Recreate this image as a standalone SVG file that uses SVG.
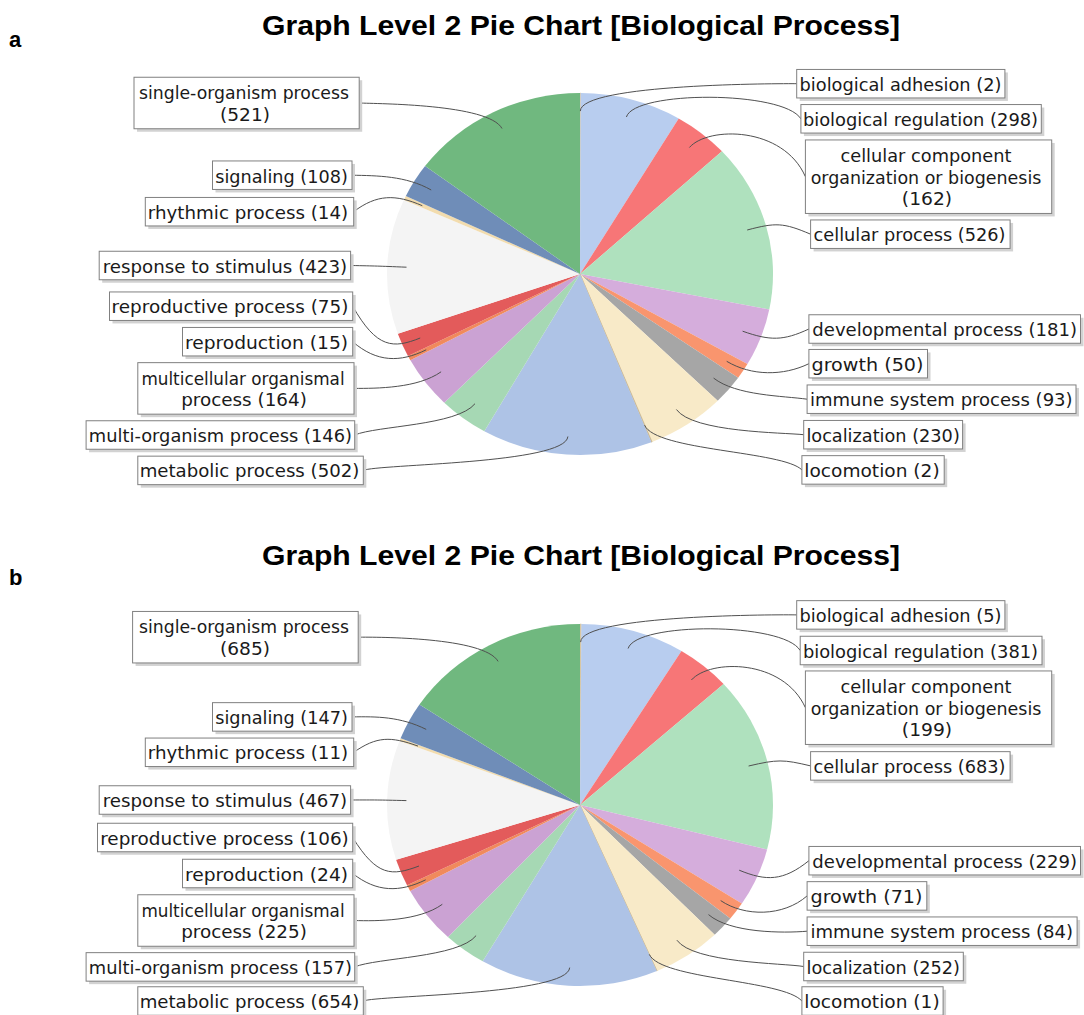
<svg xmlns="http://www.w3.org/2000/svg" width="1084" height="1015" viewBox="0 0 1084 1015">
<style>
.bg{fill:#ffffff}
.panel{font-family:"Liberation Sans",Arial,sans-serif;font-weight:bold;font-size:22px;fill:#000}
.title{font-family:"Liberation Sans",Arial,sans-serif;font-weight:bold;font-size:28px;fill:#000}
.shadow{fill:#d2d2d2}
.box{fill:#ffffff;stroke:#808080;stroke-width:1}
.lbl{font-family:"DejaVu Sans","Liberation Sans",sans-serif;font-size:18px;fill:#1a1a1a;text-anchor:middle}
.link{fill:none;stroke:#505050;stroke-width:1}
.c-adh{fill:#d8c8a4;stroke:#d8c8a4;stroke-width:0.6}
.c-reg{fill:#b8cdef}
.c-ccomp{fill:#f77677}
.c-cell{fill:#afe1be}
.c-dev{fill:#d5addc}
.c-gro{fill:#f9956e}
.c-imm{fill:#a6a6a6}
.c-loc{fill:#f8eac8}
.c-lcm{fill:#c8b48c;stroke:#c8b48c;stroke-width:0.6}
.c-met{fill:#aec3e6}
.c-mor{fill:#a6d8b4}
.c-mce{fill:#cba2d3}
.c-rpn{fill:#f08a5c}
.c-rpp{fill:#e35b5b}
.c-rsp{fill:#f4f4f4}
.c-rhy{fill:#f2dcae}
.c-sig{fill:#6f8db8}
.c-sin{fill:#70b87f}
</style>
<rect class="bg" x="0" y="0" width="1084" height="1015"/>

<!-- ================= PANEL A ================= -->
<g id="panel-a">
<text class="panel" x="9" y="47">a</text>
<text class="title" x="262" y="35" textLength="638" lengthAdjust="spacingAndGlyphs">Graph Level 2 Pie Chart [Biological Process]</text>

<g id="a-pie">
<path id="a-s-adh" class="c-adh" d="M580,274 L580,93 A193,181 0 0 1 580.69,93 Z"/>
<path id="a-s-reg" class="c-reg" d="M580,274 L580.69,93 A193,181 0 0 1 678.70,118.45 Z"/>
<path id="a-s-ccomp" class="c-ccomp" d="M580,274 L678.70,118.45 A193,181 0 0 1 721.97,151.37 Z"/>
<path id="a-s-cell" class="c-cell" d="M580,274 L721.97,151.37 A193,181 0 0 1 769.28,309.39 Z"/>
<path id="a-s-dev" class="c-dev" d="M580,274 L769.28,309.39 A193,181 0 0 1 747.43,364.04 Z"/>
<path id="a-s-gro" class="c-gro" d="M580,274 L747.43,364.04 A193,181 0 0 1 738.18,377.70 Z"/>
<path id="a-s-imm" class="c-imm" d="M580,274 L738.18,377.70 A193,181 0 0 1 717.69,400.84 Z"/>
<path id="a-s-loc" class="c-loc" d="M580,274 L717.69,400.84 A193,181 0 0 1 652.10,441.90 Z"/>
<path id="a-s-lcm" class="c-lcm" d="M580,274 L652.10,441.90 A193,181 0 0 1 651.46,442.14 Z"/>
<path id="a-s-met" class="c-met" d="M580,274 L651.46,442.14 A193,181 0 0 1 484.30,431.18 Z"/>
<path id="a-s-mor" class="c-mor" d="M580,274 L484.30,431.18 A193,181 0 0 1 444.26,402.67 Z"/>
<path id="a-s-mce" class="c-mce" d="M580,274 L444.26,402.67 A193,181 0 0 1 410.38,360.36 Z"/>
<path id="a-s-rpn" class="c-rpn" d="M580,274 L410.38,360.36 A193,181 0 0 1 407.97,356.05 Z"/>
<path id="a-s-rpp" class="c-rpp" d="M580,274 L407.97,356.05 A193,181 0 0 1 397.81,333.73 Z"/>
<path id="a-s-rsp" class="c-rsp" d="M580,274 L397.81,333.73 A193,181 0 0 1 403.81,200.12 Z"/>
<path id="a-s-rhy" class="c-rhy" d="M580,274 L403.81,200.12 A193,181 0 0 1 405.84,196.01 Z"/>
<path id="a-s-sig" class="c-sig" d="M580,274 L405.84,196.01 A193,181 0 0 1 425.05,166.09 Z"/>
<path id="a-s-sin" class="c-sin" d="M580,274 L425.05,166.09 A193,181 0 0 1 580,93 Z"/>
</g>

<g id="a-connectors">
<path class="link" d="M359.2,103 C376.8,103.8 488.7,103.8 502.0,128.5"/>
<path class="link" d="M352,175.2 C376.8,175.7 406.0,175.7 431.2,190.0"/>
<path class="link" d="M353.7,211.7 C376.8,194.1 395.6,194.1 422.3,205.7"/>
<path class="link" d="M350.6,265.5 C376.8,266.0 377.0,266.0 406.5,267.2"/>
<path class="link" d="M352.7,306.2 C376.8,348.8 393.2,348.8 420.2,338.0"/>
<path class="link" d="M352.7,341.7 C376.8,362.6 400.2,362.6 426.2,349.8"/>
<path class="link" d="M354,388.4 C376.8,388.4 417.6,388.4 441.1,371.8"/>
<path class="link" d="M354.7,435 C376.8,425.7 457.2,425.7 475.0,403.7"/>
<path class="link" d="M363.3,470.4 C376.8,464.1 565.8,464.1 567.9,436.5"/>
<path class="link" d="M796.7,83.7 C783.2,83.5 580.4,83.5 580.3,111.1"/>
<path class="link" d="M800.9,118.8 C783.2,90.4 634.2,90.4 626.4,117.0"/>
<path class="link" d="M805.4,176.7 C783.2,126.1 708.0,126.1 689.4,147.5"/>
<path class="link" d="M810.6,234.2 C783.2,222.5 775.6,222.5 747.2,230.0"/>
<path class="link" d="M808.9,329 C783.2,340.9 770.2,340.9 742.6,331.2"/>
<path class="link" d="M808.9,363.7 C783.2,376.1 751.5,376.1 726.7,361.3"/>
<path class="link" d="M807.1,399.2 C783.2,395.8 736.3,395.8 713.6,378.1"/>
<path class="link" d="M803.7,434.7 C783.2,432.5 692.8,432.5 676.4,409.5"/>
<path class="link" d="M801.9,469.9 C783.2,450.9 655.6,450.9 644.6,425.2"/>
</g>

<g id="a-l-sin"><rect class="shadow" x="137" y="80.25" width="225.2" height="51.5"/><rect class="box" x="134" y="77.25" width="225.2" height="51.5"/><text class="lbl" x="244" y="99.25" textLength="210" lengthAdjust="spacingAndGlyphs">single-organism process</text><text class="lbl" x="245" y="120.75" textLength="50" lengthAdjust="spacingAndGlyphs">(521)</text></g>
<g id="a-l-sig"><rect class="shadow" x="215.5" y="163.95" width="139.5" height="28.5"/><rect class="box" x="212.5" y="160.95" width="139.5" height="28.5"/><text class="lbl" x="281.5" y="182.5" textLength="132.6" lengthAdjust="spacingAndGlyphs">signaling (108)</text></g>
<g id="a-l-rhy"><rect class="shadow" x="148.3" y="200.45" width="208.4" height="28.5"/><rect class="box" x="145.3" y="197.45" width="208.4" height="28.5"/><text class="lbl" x="248" y="218.7" textLength="200.4" lengthAdjust="spacingAndGlyphs">rhythmic process (14)</text></g>
<g id="a-l-rsp"><rect class="shadow" x="102.2" y="254.25" width="251.4" height="28.5"/><rect class="box" x="99.2" y="251.25" width="251.4" height="28.5"/><text class="lbl" x="224.9" y="272.5" textLength="244.5" lengthAdjust="spacingAndGlyphs">response to stimulus (423)</text></g>
<g id="a-l-rpp"><rect class="shadow" x="112.5" y="294.95" width="243.2" height="28.5"/><rect class="box" x="109.5" y="291.95" width="243.2" height="28.5"/><text class="lbl" x="230" y="313.2" textLength="236.9" lengthAdjust="spacingAndGlyphs">reproductive process (75)</text></g>
<g id="a-l-rpn"><rect class="shadow" x="185.5" y="330.45" width="170.2" height="28.5"/><rect class="box" x="182.5" y="327.45" width="170.2" height="28.5"/><text class="lbl" x="266.5" y="348.7" textLength="163.2" lengthAdjust="spacingAndGlyphs">reproduction (15)</text></g>
<g id="a-l-mce"><rect class="shadow" x="140.8" y="365.65" width="216.2" height="51.5"/><rect class="box" x="137.8" y="362.65" width="216.2" height="51.5"/><text class="lbl" x="243" y="384.65" textLength="203.2" lengthAdjust="spacingAndGlyphs">multicellular organismal</text><text class="lbl" x="244" y="406.15" textLength="125.7" lengthAdjust="spacingAndGlyphs">process (164)</text></g>
<g id="a-l-mor"><rect class="shadow" x="89.1" y="423.75" width="268.6" height="28.5"/><rect class="box" x="86.1" y="420.75" width="268.6" height="28.5"/><text class="lbl" x="220.4" y="442" textLength="263.1" lengthAdjust="spacingAndGlyphs">multi-organism process (146)</text></g>
<g id="a-l-met"><rect class="shadow" x="140.8" y="459.15" width="225.5" height="28.5"/><rect class="box" x="137.8" y="456.15" width="225.5" height="28.5"/><text class="lbl" x="249.5" y="477.4" textLength="219.7" lengthAdjust="spacingAndGlyphs">metabolic process (502)</text></g>

<g id="a-l-adh"><rect class="shadow" x="799.7" y="72.45" width="208.2" height="28.5"/><rect class="box" x="796.7" y="69.45" width="208.2" height="28.5"/><text class="lbl" x="900.5" y="90.7" textLength="201.9" lengthAdjust="spacingAndGlyphs">biological adhesion (2)</text></g>
<g id="a-l-reg"><rect class="shadow" x="803.9" y="107.55" width="240.4" height="28.5"/><rect class="box" x="800.9" y="104.55" width="240.4" height="28.5"/><text class="lbl" x="920.5" y="125.8" textLength="235.2" lengthAdjust="spacingAndGlyphs">biological regulation (298)</text></g>
<g id="a-l-ccomp"><rect class="shadow" x="808.4" y="142.95" width="246.3" height="73.5"/><rect class="box" x="805.4" y="139.95" width="246.3" height="73.5"/><text class="lbl" x="926" y="162.2" textLength="171" lengthAdjust="spacingAndGlyphs">cellular component</text><text class="lbl" x="926" y="183.7" textLength="230.7" lengthAdjust="spacingAndGlyphs">organization or biogenesis</text><text class="lbl" x="927" y="205.2" textLength="50.3" lengthAdjust="spacingAndGlyphs">(162)</text></g>
<g id="a-l-cell"><rect class="shadow" x="813.6" y="222.95" width="199.5" height="28.5"/><rect class="box" x="810.6" y="219.95" width="199.5" height="28.5"/><text class="lbl" x="909.5" y="241.2" textLength="191.9" lengthAdjust="spacingAndGlyphs">cellular process (526)</text></g>
<g id="a-l-dev"><rect class="shadow" x="811.9" y="317.75" width="271.6" height="28.5"/><rect class="box" x="808.9" y="314.75" width="271.6" height="28.5"/><text class="lbl" x="944.7" y="336" textLength="264.8" lengthAdjust="spacingAndGlyphs">developmental process (181)</text></g>
<g id="a-l-gro"><rect class="shadow" x="811.9" y="352.45" width="118.6" height="28.5"/><rect class="box" x="808.9" y="349.45" width="118.6" height="28.5"/><text class="lbl" x="867.5" y="370.7" textLength="112" lengthAdjust="spacingAndGlyphs">growth (50)</text></g>
<g id="a-l-imm"><rect class="shadow" x="810.1" y="387.95" width="268.9" height="28.5"/><rect class="box" x="807.1" y="384.95" width="268.9" height="28.5"/><text class="lbl" x="941.3" y="406.2" textLength="262.6" lengthAdjust="spacingAndGlyphs">immune system process (93)</text></g>
<g id="a-l-loc"><rect class="shadow" x="806.7" y="423.45" width="158.9" height="28.5"/><rect class="box" x="803.7" y="420.45" width="158.9" height="28.5"/><text class="lbl" x="883.1" y="441.7" textLength="153.4" lengthAdjust="spacingAndGlyphs">localization (230)</text></g>
<g id="a-l-lcm"><rect class="shadow" x="804.9" y="458.65" width="142.3" height="28.5"/><rect class="box" x="801.9" y="455.65" width="142.3" height="28.5"/><text class="lbl" x="872" y="476.9" textLength="135.3" lengthAdjust="spacingAndGlyphs">locomotion (2)</text></g>
</g>

<!-- ================= PANEL B ================= -->
<g id="panel-b">
<text class="panel" x="9" y="585">b</text>
<text class="title" x="262" y="565" textLength="638" lengthAdjust="spacingAndGlyphs">Graph Level 2 Pie Chart [Biological Process]</text>

<g id="b-pie">
<path id="b-s-adh" class="c-adh" d="M580,805 L580,624 A193,181 0 0 1 581.38,624 Z"/>
<path id="b-s-reg" class="c-reg" d="M580,805 L581.38,624 A193,181 0 0 1 681.47,651.03 Z"/>
<path id="b-s-ccomp" class="c-ccomp" d="M580,805 L681.47,651.03 A193,181 0 0 1 723.59,684.05 Z"/>
<path id="b-s-cell" class="c-cell" d="M580,805 L723.59,684.05 A193,181 0 0 1 767.11,849.38 Z"/>
<path id="b-s-dev" class="c-dev" d="M580,805 L767.11,849.38 A193,181 0 0 1 741.84,903.61 Z"/>
<path id="b-s-gro" class="c-gro" d="M580,805 L741.84,903.61 A193,181 0 0 1 730.31,918.53 Z"/>
<path id="b-s-imm" class="c-imm" d="M580,805 L730.31,918.53 A193,181 0 0 1 714.68,934.65 Z"/>
<path id="b-s-loc" class="c-loc" d="M580,805 L714.68,934.65 A193,181 0 0 1 657.09,970.93 Z"/>
<path id="b-s-lcm" class="c-lcm" d="M580,805 L657.09,970.93 A193,181 0 0 1 656.84,971.04 Z"/>
<path id="b-s-met" class="c-met" d="M580,805 L656.84,971.04 A193,181 0 0 1 482.68,961.31 Z"/>
<path id="b-s-mor" class="c-mor" d="M580,805 L482.68,961.31 A193,181 0 0 1 447.93,936.98 Z"/>
<path id="b-s-mce" class="c-mce" d="M580,805 L447.93,936.98 A193,181 0 0 1 410.11,890.89 Z"/>
<path id="b-s-rpn" class="c-rpn" d="M580,805 L410.11,890.89 A193,181 0 0 1 407.06,885.36 Z"/>
<path id="b-s-rpp" class="c-rpp" d="M580,805 L407.06,885.36 A193,181 0 0 1 396.08,859.87 Z"/>
<path id="b-s-rsp" class="c-rsp" d="M580,805 L396.08,859.87 A193,181 0 0 1 399.49,740.94 Z"/>
<path id="b-s-rhy" class="c-rhy" d="M580,805 L399.49,740.94 A193,181 0 0 1 400.59,738.28 Z"/>
<path id="b-s-sig" class="c-sig" d="M580,805 L400.59,738.28 A193,181 0 0 1 419.45,704.54 Z"/>
<path id="b-s-sin" class="c-sin" d="M580,805 L419.45,704.54 A193,181 0 0 1 580,624 Z"/>
</g>

<g id="b-connectors">
<path class="link" d="M358.2,637.2 C376.8,637.0 484.2,637.0 498.1,661.4"/>
<path class="link" d="M352,716.9 C376.8,716.5 400.1,716.5 426.2,729.4"/>
<path class="link" d="M353.7,752.3 C376.8,736.2 390.6,736.2 418.0,746.1"/>
<path class="link" d="M350.6,800 C376.8,799.9 376.9,799.9 406.4,800.6"/>
<path class="link" d="M352.7,837.5 C376.8,876.4 391.6,876.4 419.0,866.0"/>
<path class="link" d="M352.7,873.5 C376.8,892.5 399.6,892.5 425.7,879.8"/>
<path class="link" d="M354,920.5 C376.8,921.2 419.0,921.2 442.3,904.3"/>
<path class="link" d="M354.7,966.9 C376.8,957.7 458.5,957.7 476.1,935.6"/>
<path class="link" d="M363.3,1001 C376.8,995.2 567.9,995.2 569.7,967.6"/>
<path class="link" d="M796.7,614.9 C783.2,614.5 580.7,614.5 580.6,642.1"/>
<path class="link" d="M800.2,650.5 C783.2,621.9 636.2,621.9 628.1,648.5"/>
<path class="link" d="M805.4,707.7 C783.2,658.8 710.3,658.8 691.4,680.0"/>
<path class="link" d="M810.6,765.9 C783.2,759.3 777.2,759.3 748.6,766.0"/>
<path class="link" d="M808.9,860.7 C783.2,881.3 766.2,881.3 739.2,870.2"/>
<path class="link" d="M807.1,895.9 C783.2,916.8 744.5,916.8 720.7,900.6"/>
<path class="link" d="M807.1,931.2 C783.2,933.2 730.3,933.2 708.5,914.6"/>
<path class="link" d="M803.7,966.5 C783.2,963.1 693.3,963.1 676.9,940.2"/>
<path class="link" d="M801.9,1001 C783.2,979.7 661.0,979.7 649.3,954.4"/>
</g>

<g id="b-l-sin"><rect class="shadow" x="135.6" y="614.45" width="225.6" height="51.5"/><rect class="box" x="132.6" y="611.45" width="225.6" height="51.5"/><text class="lbl" x="244" y="633.45" textLength="210" lengthAdjust="spacingAndGlyphs">single-organism process</text><text class="lbl" x="245" y="654.95" textLength="50" lengthAdjust="spacingAndGlyphs">(685)</text></g>
<g id="b-l-sig"><rect class="shadow" x="215.5" y="705.65" width="139.5" height="28.5"/><rect class="box" x="212.5" y="702.65" width="139.5" height="28.5"/><text class="lbl" x="281.5" y="723.9" textLength="132.6" lengthAdjust="spacingAndGlyphs">signaling (147)</text></g>
<g id="b-l-rhy"><rect class="shadow" x="148.3" y="741.05" width="208.4" height="28.5"/><rect class="box" x="145.3" y="738.05" width="208.4" height="28.5"/><text class="lbl" x="248" y="759.3" textLength="200.4" lengthAdjust="spacingAndGlyphs">rhythmic process (11)</text></g>
<g id="b-l-rsp"><rect class="shadow" x="102.2" y="788.75" width="251.4" height="28.5"/><rect class="box" x="99.2" y="785.75" width="251.4" height="28.5"/><text class="lbl" x="224.9" y="807" textLength="244.5" lengthAdjust="spacingAndGlyphs">response to stimulus (467)</text></g>
<g id="b-l-rpp"><rect class="shadow" x="100.5" y="826.25" width="255.2" height="28.5"/><rect class="box" x="97.5" y="823.25" width="255.2" height="28.5"/><text class="lbl" x="224.5" y="844.5" textLength="248.6" lengthAdjust="spacingAndGlyphs">reproductive process (106)</text></g>
<g id="b-l-rpn"><rect class="shadow" x="185.5" y="862.25" width="170.2" height="28.5"/><rect class="box" x="182.5" y="859.25" width="170.2" height="28.5"/><text class="lbl" x="266.5" y="880.5" textLength="163.2" lengthAdjust="spacingAndGlyphs">reproduction (24)</text></g>
<g id="b-l-mce"><rect class="shadow" x="140.8" y="897.75" width="216.2" height="51.5"/><rect class="box" x="137.8" y="894.75" width="216.2" height="51.5"/><text class="lbl" x="243" y="916.75" textLength="203.2" lengthAdjust="spacingAndGlyphs">multicellular organismal</text><text class="lbl" x="244" y="938.25" textLength="125.7" lengthAdjust="spacingAndGlyphs">process (225)</text></g>
<g id="b-l-mor"><rect class="shadow" x="89.1" y="955.65" width="268.6" height="28.5"/><rect class="box" x="86.1" y="952.65" width="268.6" height="28.5"/><text class="lbl" x="220.4" y="973.9" textLength="263.1" lengthAdjust="spacingAndGlyphs">multi-organism process (157)</text></g>
<g id="b-l-met"><rect class="shadow" x="140.8" y="989.75" width="225.5" height="28.5"/><rect class="box" x="137.8" y="986.75" width="225.5" height="28.5"/><text class="lbl" x="249.5" y="1008" textLength="219.7" lengthAdjust="spacingAndGlyphs">metabolic process (654)</text></g>

<g id="b-l-adh"><rect class="shadow" x="799.7" y="603.65" width="208.2" height="28.5"/><rect class="box" x="796.7" y="600.65" width="208.2" height="28.5"/><text class="lbl" x="900.5" y="621.9" textLength="201.9" lengthAdjust="spacingAndGlyphs">biological adhesion (5)</text></g>
<g id="b-l-reg"><rect class="shadow" x="803.2" y="639.25" width="241.8" height="28.5"/><rect class="box" x="800.2" y="636.25" width="241.8" height="28.5"/><text class="lbl" x="920.5" y="657.5" textLength="235.2" lengthAdjust="spacingAndGlyphs">biological regulation (381)</text></g>
<g id="b-l-ccomp"><rect class="shadow" x="808.4" y="673.95" width="246.3" height="73.5"/><rect class="box" x="805.4" y="670.95" width="246.3" height="73.5"/><text class="lbl" x="926" y="693.2" textLength="171" lengthAdjust="spacingAndGlyphs">cellular component</text><text class="lbl" x="926" y="714.7" textLength="230.7" lengthAdjust="spacingAndGlyphs">organization or biogenesis</text><text class="lbl" x="927" y="736.2" textLength="50.3" lengthAdjust="spacingAndGlyphs">(199)</text></g>
<g id="b-l-cell"><rect class="shadow" x="813.6" y="754.65" width="199.5" height="28.5"/><rect class="box" x="810.6" y="751.65" width="199.5" height="28.5"/><text class="lbl" x="909.5" y="772.9" textLength="191.9" lengthAdjust="spacingAndGlyphs">cellular process (683)</text></g>
<g id="b-l-dev"><rect class="shadow" x="811.9" y="849.45" width="271.6" height="28.5"/><rect class="box" x="808.9" y="846.45" width="271.6" height="28.5"/><text class="lbl" x="944.7" y="867.7" textLength="264.8" lengthAdjust="spacingAndGlyphs">developmental process (229)</text></g>
<g id="b-l-gro"><rect class="shadow" x="810.1" y="884.65" width="119.7" height="28.5"/><rect class="box" x="807.1" y="881.65" width="119.7" height="28.5"/><text class="lbl" x="866.5" y="902.9" textLength="112" lengthAdjust="spacingAndGlyphs">growth (71)</text></g>
<g id="b-l-imm"><rect class="shadow" x="810.1" y="919.95" width="270" height="28.5"/><rect class="box" x="807.1" y="916.95" width="270" height="28.5"/><text class="lbl" x="941.7" y="938.2" textLength="262.6" lengthAdjust="spacingAndGlyphs">immune system process (84)</text></g>
<g id="b-l-loc"><rect class="shadow" x="806.7" y="955.25" width="159.6" height="28.5"/><rect class="box" x="803.7" y="952.25" width="159.6" height="28.5"/><text class="lbl" x="883.3" y="973.5" textLength="153.4" lengthAdjust="spacingAndGlyphs">localization (252)</text></g>
<g id="b-l-lcm"><rect class="shadow" x="804.9" y="989.75" width="141.2" height="28.5"/><rect class="box" x="801.9" y="986.75" width="141.2" height="28.5"/><text class="lbl" x="872" y="1008" textLength="135.3" lengthAdjust="spacingAndGlyphs">locomotion (1)</text></g>
</g>
</svg>
